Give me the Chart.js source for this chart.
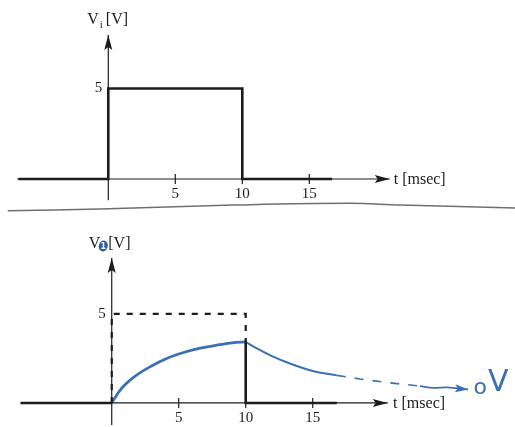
<!DOCTYPE html>
<html>
<head>
<meta charset="utf-8">
<script src="https://cdn.jsdelivr.net/npm/chart.js@4.4.1/dist/chart.umd.min.js"></script>
<style>
html, body { margin: 0; padding: 0; background: #fff; }
#wrap { position: relative; width: 515px; height: 427px; overflow: hidden; background: #fff; }
#topChart { position: absolute; left: 0; top: 0; }
#bottomChart { position: absolute; left: 0; top: 215px; }
</style>
</head>
<body>
<div id="wrap">
  <canvas id="topChart" width="515" height="215"></canvas>
  <canvas id="bottomChart" width="515" height="212"></canvas>
</div>
<script>
// ---- data (t in msec, V in volts) ----
// top plot: input pulse Vi
var inT = [-6.7, 0, 0, 10, 10, 16.7];
var inV = [0, 0, 5, 5, 0, 0];
// page curl line between the two plots
var sepT = [-7.5, -0.6, 9.3, 18.0, 21.8, 30.4];
var sepV = [-1.75, -1.66, -1.44, -1.34, -1.44, -1.60];

// bottom plot: output V1
var baseT = [-6.8, 0];
var baseV = [0, 0];
var idealT = [0, 0, 10, 10];
var idealV = [0, 5, 5, 3.43];
var dropT = [10, 10, 16.8];
var dropV = [3.43, 0, 0];
var riseT = [0, 0.6, 1.6, 2.9, 4.1, 5.3, 6.6, 7.9, 9.0, 10.0];
var riseV = [0, 0.70, 1.42, 2.05, 2.50, 2.82, 3.08, 3.26, 3.38, 3.43];
var decayT = [10, 10.8, 12.0, 13.3, 15.0, 16.8];
var decayV = [3.43, 3.08, 2.62, 2.22, 1.80, 1.55];
var tailT = [16.8, 18.5, 20.5, 23.0];
var tailV = [1.55, 1.35, 1.15, 0.95];
var endT = [23.0, 24.0, 25.0, 26.6];
var endV = [0.95, 0.85, 0.88, 0.76];

var xTicks = [5, 10, 15];
var yTicks = [5];

var black = '#1c1c1c';
var blue = '#3b70b3';

function pts(ts, vs) {
    var out = [];
    for (let i = 0; i < ts.length; i++) {
        out.push({x: ts[i], y: vs[i]});
    }
    return out;
}

function line(ts, vs, color, width, dash) {
    return {
        data: pts(ts, vs),
        showLine: true,
        borderColor: color,
        borderWidth: width,
        borderDash: dash || [],
        pointRadius: 0,
        fill: false,
        tension: 0
    };
}

// arrow heads, tick labels and axis titles
var decor = {
    id: 'decor',
    afterDatasetsDraw(chart, args, o) {
        let ctx = chart.ctx;
        let xs = chart.scales.x, ys = chart.scales.y;
        ctx.save();
        chart.data.datasets.forEach(function (ds) {
            if (!ds.arrow) return;
            let d = ds.data;
            let a = d[d.length - 2], b = d[d.length - 1];
            let x1 = xs.getPixelForValue(a.x), y1 = ys.getPixelForValue(a.y);
            let x2 = xs.getPixelForValue(b.x), y2 = ys.getPixelForValue(b.y);
            let ang = Math.atan2(y2 - y1, x2 - x1);
            let L = ds.arrow[0], W = ds.arrow[1];
            ctx.fillStyle = ds.borderColor;
            ctx.beginPath();
            ctx.moveTo(x2, y2);
            ctx.lineTo(x2 - L * Math.cos(ang) + W * Math.sin(ang), y2 - L * Math.sin(ang) - W * Math.cos(ang));
            ctx.lineTo(x2 - L * 0.8 * Math.cos(ang), y2 - L * 0.8 * Math.sin(ang));
            ctx.lineTo(x2 - L * Math.cos(ang) - W * Math.sin(ang), y2 - L * Math.sin(ang) + W * Math.cos(ang));
            ctx.closePath();
            ctx.fill();
        });

        ctx.fillStyle = black;
        ctx.font = '15px "Liberation Serif", serif';
        ctx.textAlign = 'center';
        ctx.textBaseline = 'middle';
        xTicks.forEach(function (t) {
            ctx.fillText(String(t), xs.getPixelForValue(t), ys.getPixelForValue(0) + 15);
        });
        ctx.textAlign = 'right';
        yTicks.forEach(function (v) {
            ctx.fillText(String(v), xs.getPixelForValue(0) - 6, ys.getPixelForValue(v));
        });

        // t [msec]
        ctx.textAlign = 'left';
        ctx.font = '16px "Liberation Serif", serif';
        ctx.fillText('t [msec]', xs.getPixelForValue(o.xLabelAt), ys.getPixelForValue(0) + 1);

        // V axis title
        let tx = xs.getPixelForValue(0) + o.yLabelDx, ty = o.yLabelY;
        ctx.textBaseline = 'alphabetic';
        ctx.font = '16px "Liberation Serif", serif';
        ctx.fillText('V', tx, ty);
        let vw = ctx.measureText('V').width;
        if (o.sub === 'i') {
            ctx.font = '11px "Liberation Serif", serif';
            ctx.fillText('i', tx + vw + 1, ty + 4);
            ctx.font = '16px "Liberation Serif", serif';
            ctx.fillText('[V]', tx + vw + 7, ty);
        } else {
            ctx.fillStyle = '#2d5f9e';
            ctx.beginPath();
            ctx.ellipse(tx + vw + 3, ty - 2, 4.5, 5.5, 0.3, 0, Math.PI * 2);
            ctx.fill();
            ctx.fillStyle = '#fff';
            ctx.font = 'bold 8px "DejaVu Sans", sans-serif';
            ctx.textAlign = 'center';
            ctx.fillText('1', tx + vw + 3, ty + 1);
            ctx.fillStyle = black;
            ctx.textAlign = 'left';
            ctx.font = '16px "Liberation Serif", serif';
            ctx.fillText('[V]', tx + vw + 8, ty);
        }

        if (o.note) {
            // handwritten "oV"
            ctx.fillStyle = blue;
            let nx = xs.getPixelForValue(o.noteAt), ny = ys.getPixelForValue(0.55);
            ctx.font = '22px "DejaVu Sans", sans-serif';
            ctx.fillText(o.note[0], nx, ny + 1);
            let ow = ctx.measureText(o.note[0]).width;
            ctx.font = '30px "DejaVu Sans", sans-serif';
            ctx.fillText(o.note[1], nx + ow + 1, ny - 2);
        }
        ctx.restore();
    }
};

function makeChart(id, datasets, xmin, xmax, ymin, ymax, opts) {
    return new Chart(document.getElementById(id), {
        type: 'scatter',
        data: {datasets: datasets},
        options: {
            responsive: false,
            devicePixelRatio: 1,
            animation: false,
            events: [],
            layout: {padding: 0, autoPadding: false},
            scales: {
                x: {type: 'linear', display: false, min: xmin, max: xmax},
                y: {type: 'linear', display: false, min: ymin, max: ymax}
            },
            plugins: {
                legend: {display: false},
                tooltip: {enabled: false},
                decor: opts
            }
        },
        plugins: [decor]
    });
}

// tick marks on the time axis
function tickMarks() {
    return {
        data: pts(xTicks, xTicks.map(function () { return 0; })),
        showLine: false,
        pointStyle: 'line',
        rotation: 90,
        pointRadius: 5,
        borderColor: black,
        borderWidth: 1.2
    };
}

// ---------- top plot ----------
var topSets = [];
var xAxisTop = line([-6.8, 21.0], [0, 0], black, 1.2);
xAxisTop.arrow = [15, 4];
var yAxisTop = line([0, 0], [-1.17, 7.96], black, 1.2);
yAxisTop.arrow = [15, 4];
topSets.push(xAxisTop, yAxisTop);
topSets.push(line(inT, inV, black, 2.6));
topSets.push(tickMarks());
var sep = line(sepT, sepV, '#6f6f6f', 1.5);
sep.tension = 0.4;
topSets.push(sep);

makeChart('topChart', topSets, -8.08, 30.35, -1.99, 9.89,
    {xLabelAt: 21.3, yLabelDx: -21, yLabelY: 24, sub: 'i'});

// ---------- bottom plot ----------
var botSets = [];
var xAxisBot = line([-6.8, 20.6], [0, 0], black, 1.2);
xAxisBot.arrow = [15, 4];
var yAxisBot = line([0, 0], [-1.24, 8.15], black, 1.2);
yAxisBot.arrow = [15, 4];
botSets.push(xAxisBot, yAxisBot);
botSets.push(line(baseT, baseV, black, 2.6));
botSets.push(line(dropT, dropV, black, 2.6));
botSets.push(line(idealT, idealV, black, 2.2, [6, 7]));
botSets.push(tickMarks());
var rise = line(riseT, riseV, blue, 2.8);
rise.cubicInterpolationMode = 'monotone';
var decay = line(decayT, decayV, blue, 2);
decay.cubicInterpolationMode = 'monotone';
var tail = line(tailT, tailV, blue, 1.6, [9, 9]);
var end = line(endT, endV, blue, 1.8);
end.tension = 0.4;
end.arrow = [13, 4];
botSets.push(rise, decay, tail, end);

makeChart('bottomChart', botSets, -8.34, 30.10, -1.35, 10.56,
    {xLabelAt: 21.0, yLabelDx: -23, yLabelY: 33, sub: '1', note: 'oV', noteAt: 27.0});
</script>
</body>
</html>
